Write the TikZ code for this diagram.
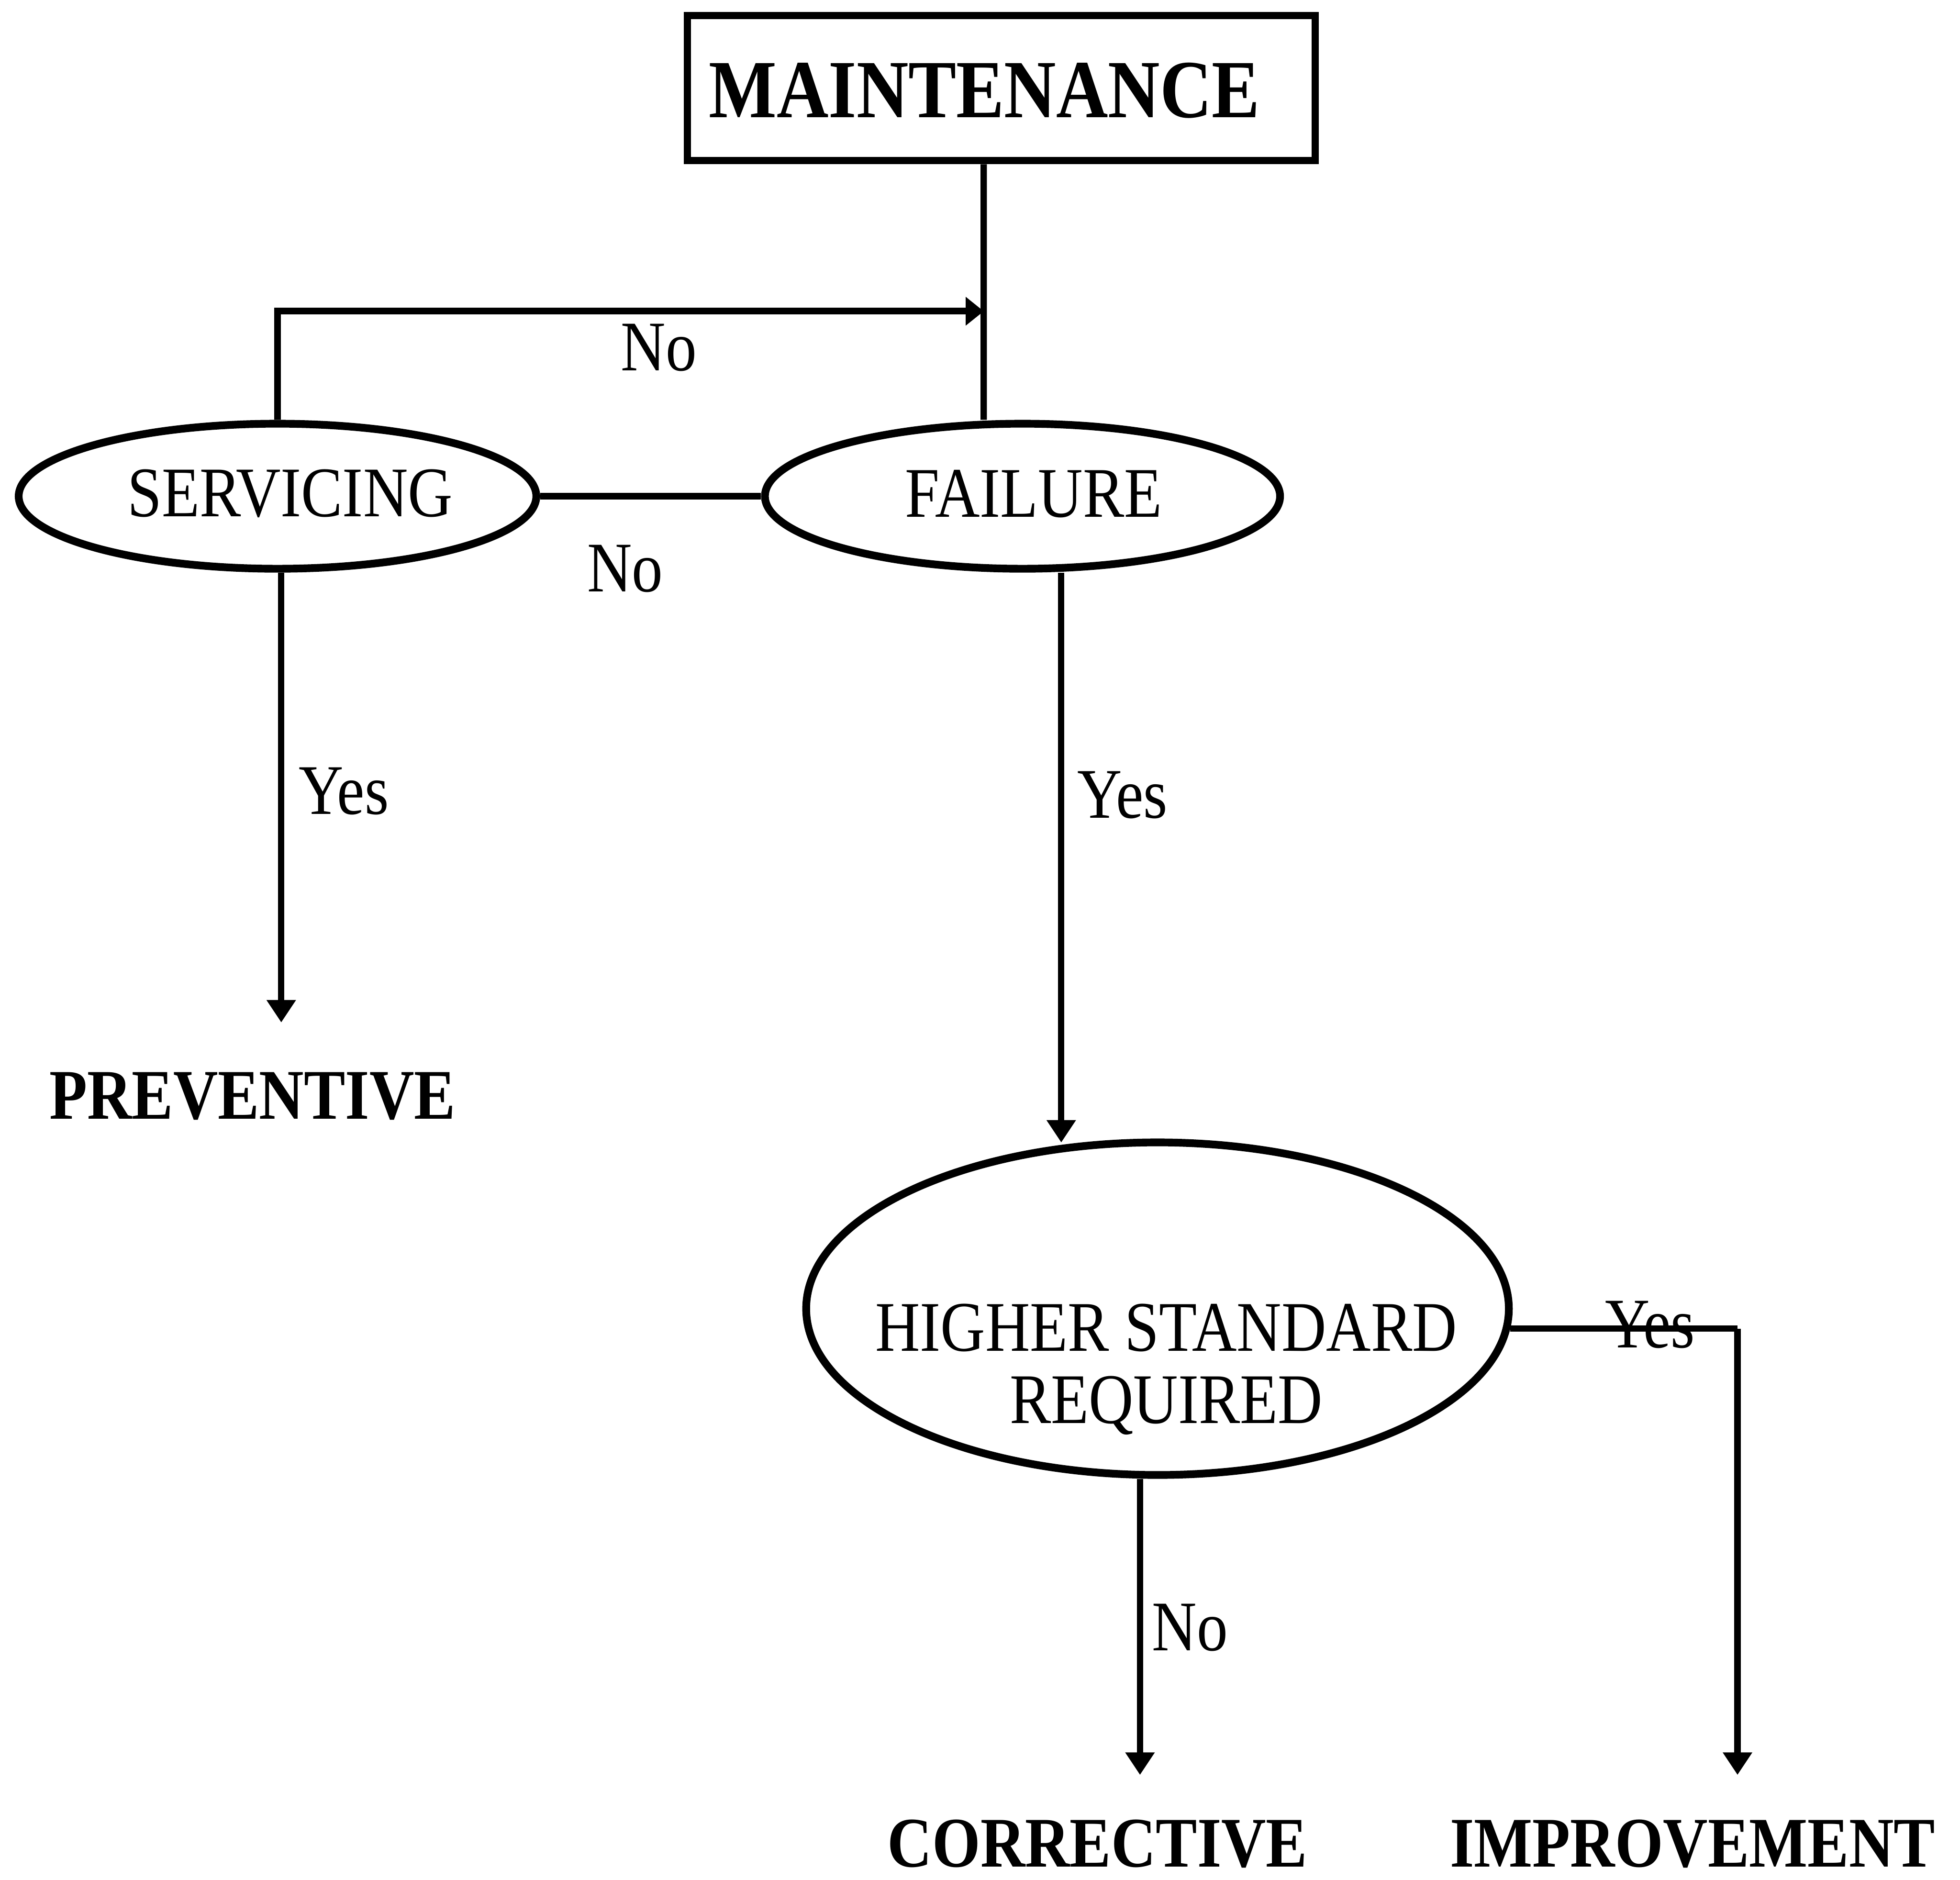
\documentclass[tikz,border=0pt]{standalone}
\usepackage{fontspec}
\setmainfont{Liberation Serif}[FakeStretch=0.87]
\usetikzlibrary{shapes.geometric,arrows.meta}
\begin{document}
\begin{tikzpicture}[x=0.025cm,y=-0.025cm,
  txt/.style={inner sep=0pt,font=\fontsize{40.5}{41}\selectfont},
  bigtxt/.style={inner sep=0pt,font=\fontsize{40.5}{41}\selectfont\bfseries},
  oval/.style={ellipse,draw,line width=4.4pt,inner sep=0pt},
  conn/.style={line width=3.6pt},
  arr/.style={line width=3.6pt,-{Triangle[width=0.56cm,length=0.45cm]}}
]
\useasboundingbox (0,0) rectangle (1568,1504);

% top box
\node[draw,line width=4.2pt,minimum width=12.55cm,minimum height=2.9cm,inner sep=0pt] (maint) at (801,70.5) {};
\node[inner sep=0pt,font=\fontsize{47}{48}\selectfont\bfseries] (mainttxt) at (787.5,72.5) {MAINTENANCE};

% decision ovals
\node[oval,minimum width=10.35cm,minimum height=2.9cm] (serv) at (222,397) {};
\node[txt] (servtxt) at (232,395) {SERVICING};
\node[oval,minimum width=10.3cm,minimum height=2.9cm] (fail) at (818,397) {};
\node[txt] (failtxt) at (827,395) {FAILURE};
\node[oval,minimum width=14.05cm,minimum height=6.65cm] (hsr) at (926,1047) {};
\node[txt,align=center,anchor=north] (hsrtxt) at (933,1043) {HIGHER STANDARD\\REQUIRED};

% outcomes
\node[bigtxt] (prev) at (202,877) {PREVENTIVE};
\node[bigtxt] (corr) at (878,1475) {CORRECTIVE};
\node[bigtxt] (impr) at (1354,1475) {IMPROVEMENT};

% helper points
\coordinate (jn) at (787,249);
\coordinate (cfail) at (849,0);
\coordinate (ptip) at (225,818);
\coordinate (ctip) at (912,1420);
\coordinate (corner) at (1390,1063);
\coordinate (itip) at (1390,1420);

% connectors
\draw[conn] ([xshift=-0.35cm]maint.south) -- ([xshift=-0.775cm]fail.north);
\draw[line width=3.8pt,-{Triangle[width=0.55cm,length=0.36cm]}] (serv.north) |- (jn);
\draw[line width=3.6pt] (serv.east) -- (fail.west);
\draw[arr] (serv.south -| ptip) -- (ptip);
\draw[arr] (fail.south -| cfail) -- ([yshift=-0.08cm]hsr.north -| cfail);
\draw[arr] (hsr.south -| ctip) -- (ctip);
\draw[conn] ([xshift=-0.05cm]hsr.east |- corner) -- (corner);
\draw[arr] (corner) -- (itip);

% branch labels
\node[txt] (no1) at (527,278) {No};
\node[txt] (no2) at (500,455) {No};
\node[txt] (yes1) at (275,633) {Yes};
\node[txt] (yes2) at (898,636) {Yes};
\node[txt] (yes3) at (1320,1060) {Yes};
\node[txt] (no3) at (952,1302) {No};
\end{tikzpicture}
\end{document}
